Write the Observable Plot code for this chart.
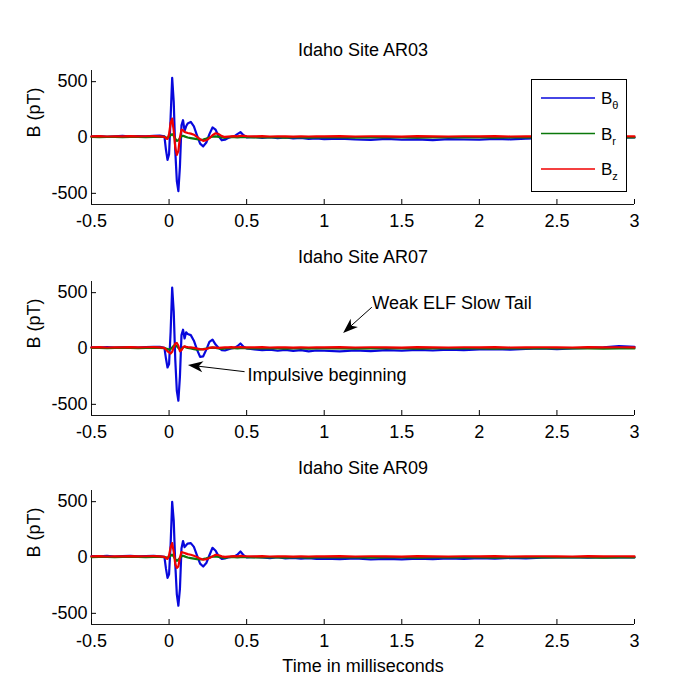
<!DOCTYPE html>
<html>
<head>
<meta charset="utf-8">
<script src="https://cdn.jsdelivr.net/npm/d3@7"></script>
<script src="https://cdn.jsdelivr.net/npm/@observablehq/plot@0.6"></script>
<style>
  body { margin: 0; background: #fff; }
  #chart { position: relative; width: 700px; height: 700px; font-family: "Liberation Sans", Arial, sans-serif; }
  #chart > svg { position: absolute; left: 0; }
</style>
</head>
<body>
<div id="chart"></div>
<script>
// Sample times (ms) shared by every station record
const timeMs = [
  -0.5, -0.45, -0.4, -0.35, -0.3, -0.25, -0.2, -0.15, -0.1, -0.06, -0.03, -0.02, -0.01,
  0, 0.01, 0.02, 0.03, 0.04, 0.05, 0.06, 0.07, 0.08, 0.09, 0.1, 0.11, 0.12,
  0.14, 0.16, 0.18, 0.2, 0.22, 0.24, 0.26, 0.28, 0.3, 0.32, 0.34, 0.36, 0.38, 0.4, 0.42, 0.44, 0.46, 0.48, 0.5,
  0.55, 0.6, 0.65, 0.7, 0.75, 0.8, 0.85, 0.9, 0.95,
  1, 1.1, 1.2, 1.3, 1.4, 1.5, 1.6, 1.7, 1.8, 1.9, 2, 2.1, 2.2, 2.3, 2.4, 2.5, 2.6, 2.7, 2.8, 2.9, 3
];

// Station AR03 (pT)
const bTheta03 = [
  8, 12, 6, 10, 14, 8, 12, 10, 14, 18, 10, -110, -200,
  -150, 180, 535, 320, -120, -390, -480, -260, 110, 155, 60, 100, 125,
  140, 100, 20, -55, -80, -45, 30, 90, 70, 10, -25, -20, -5, 5, 10, 30, 48, 20, 2,
  5, -4, 2, -6, 0, -8, -3, -12, -8,
  -15, -10, -18, -22, -12, -20, -16, -24, -14, -18, -20, -12, -16, -10, -6, -2, 0, -4, 2, -2, 0
];
const bR03 = [
  5, 4, 6, 5, 3, 5, 6, 4, 5, 6, 5, 2, 0,
  5, 20, 30, 15, -10, -30, -25, -5, 10, 15, 10, 5, 0,
  -5, -10, -15, -20, -18, -10, 0, 8, 10, 5, 0, -3, 2, 5, 3, 0, 4, 6, 3,
  2, 0, 3, 1, -2, 2, 0, -1, 1,
  0, 2, -1, 1, 3, 0, -2, 1, 2, 0, 1, -1, 2, 0, 3, 1, 0, 2, -1, 1, 0
];
const bZ03 = [
  10, 12, 9, 11, 10, 12, 10, 11, 12, 10, 6, -10, -12,
  30, 130, 170, 60, -90, -155, -120, 0, 70, 65, 50, 45, 40,
  35, 25, 5, -15, -30, -25, -5, 20, 38, 30, 12, 5, 8, 10, 12, 10, 15, 14, 12,
  10, 12, 9, 11, 10, 8, 10, 9, 11,
  10, 12, 9, 11, 10, 8, 12, 10, 9, 11, 10, 12, 9, 10, 11, 10, 9, 12, 10, 11, 10
];

// Station AR07 (pT)
const bTheta07 = [
  10, 8, 12, 9, 11, 10, 8, 12, 14, 15, 5, -90, -170,
  -140, 150, 545, 330, -100, -380, -468, -250, 120, 168, 90, 145, 130,
  120, 70, -10, -75, -70, -10, 60, 80, 35, 5, -15, -18, -8, 0, 5, 20, 45, 15, 0,
  -8, -15, -10, -20, -12, -22, -15, -25, -18,
  -20, -26, -18, -24, -15, -20, -12, -18, -10, -14, -8, -5, -10, -4, 0, -6, 2, 5, 10, 22, 15
];
const bR07 = [
  5, 6, 4, 5, 7, 5, 4, 6, 5, 6, 4, 0, -5,
  -10, -5, 10, 25, 30, 20, 5, -10, -5, 10, 15, 10, 5,
  0, -5, -10, -8, -5, 0, 5, 8, 5, 0, -3, 0, 2, 4, 2, 0, 3, 5, 2,
  2, 0, 3, 1, -2, 2, 0, -1, 1,
  0, 2, -1, 1, 3, 0, -2, 1, 2, 0, 1, -1, 2, 0, 3, 1, 0, 2, -1, 1, 0
];
const bZ07 = [
  10, 12, 9, 11, 10, 12, 10, 11, 12, 10, 5, -10, -25,
  -35, -45, -30, 10, 45, 50, 25, -25, -15, 10, 20, 15, 12,
  10, 5, 0, -5, -8, -3, 5, 10, 8, 5, 8, 10, 10, 12, 10, 11, 12, 10, 11,
  10, 12, 9, 11, 10, 8, 10, 9, 11,
  10, 12, 9, 11, 10, 8, 12, 10, 9, 11, 10, 12, 9, 10, 11, 10, 9, 12, 10, 11, 10
];

// Station AR09 (pT)
const bTheta09 = [
  12, 10, 14, 8, 12, 15, 10, 12, 14, 10, 5, -100, -183,
  -150, 120, 498, 330, -60, -330, -432, -280, 80, 147, 93, 110, 125,
  129, 95, 20, -55, -81, -50, 20, 87, 60, 10, -12, -8, 0, 5, 10, 25, 54, 20, 2,
  5, 0, -5, 2, -8, -3, -10, -6, -12,
  -10, -15, -8, -18, -12, -16, -10, -14, -8, -12, -6, -10, -4, -8, -2, 0, 4, -2, 3, 0, 2
];
const bR09 = [
  4, 5, 6, 4, 5, 6, 5, 4, 6, 5, 4, 2, 0,
  5, 15, 25, 10, -15, -30, -20, -5, 10, 15, 10, 5, 0,
  -5, -10, -15, -18, -15, -8, 0, 8, 10, 5, 0, -3, 2, 5, 3, 0, 4, 6, 3,
  2, 0, 3, 1, -2, 2, 0, -1, 1,
  1, 0, 2, -1, 2, 0, -2, 1, 3, 0, 1, -1, 2, 0, 2, 1, 0, 2, -1, 1, 0
];
const bZ09 = [
  10, 12, 9, 11, 10, 12, 10, 11, 12, 10, 6, -8, -12,
  20, 90, 129, 50, -60, -93, -80, 0, 48, 45, 40, 35, 30,
  25, 15, 5, -10, -20, -15, -5, 10, 25, 20, 10, 5, 8, 10, 12, 10, 14, 12, 11,
  10, 12, 9, 11, 10, 8, 10, 9, 11,
  10, 12, 9, 11, 10, 8, 12, 10, 9, 11, 10, 12, 9, 10, 11, 10, 9, 12, 10, 11, 10
];

const panelTitles = ["Idaho Site AR03", "Idaho Site AR07", "Idaho Site AR09"];
const xTicks = [-0.5, 0, 0.5, 1, 1.5, 2, 2.5, 3];
const yTicks = [-500, 0, 500];
const componentNames = ["θ", "r", "z"]; // subscripts of B
const componentColors = ["#0808dc", "#0a780a", "#f00000"];

// Callouts on the AR07 record: label anchor and arrow tail/tip in data units
const notes = [
  { label: "Weak ELF Slow Tail", x: 1.31, y: 405, fromX: 1.31, fromY: 365, toX: 1.125, toY: 135 },
  { label: "Impulsive beginning", x: 0.505, y: -242, fromX: 0.49, fromY: -212, toX: 0.125, toY: -152 }
];

const FONT = '"Liberation Sans", Arial, sans-serif';
const chart = document.getElementById("chart");

const layouts = [
  { top: 0,   height: 235, mt: 70, mb: 31, titleDy: -27 },
  { top: 235, height: 212, mt: 46, mb: 32, titleDy: -31 },
  { top: 447, height: 253, mt: 43, mb: 76, titleDy: -29 }
];
const records = [
  [bTheta03, bR03, bZ03],
  [bTheta07, bR07, bZ07],
  [bTheta09, bR09, bZ09]
];

function arrowHead(g, x1, y1, x2, y2) {
  const dx = x2 - x1, dy = y2 - y1, len = Math.hypot(dx, dy);
  const ux = dx / len, uy = dy / len, px = -uy, py = ux;
  const L = 15, W = 5.5;
  g.append("line")
    .attr("x1", x1).attr("y1", y1)
    .attr("x2", x2 - ux * L * 0.7).attr("y2", y2 - uy * L * 0.7)
    .attr("stroke", "#000").attr("stroke-width", 1);
  const pts = [
    [x2, y2],
    [x2 - ux * L + px * W, y2 - uy * L + py * W],
    [x2 - ux * L * 0.72, y2 - uy * L * 0.72],
    [x2 - ux * L - px * W, y2 - uy * L - py * W]
  ];
  g.append("polygon").attr("points", pts.map(p => p.join(",")).join(" ")).attr("fill", "#000");
}

layouts.forEach((lay, i) => {
  const [bt, br, bz] = records[i];
  const last = i === layouts.length - 1;
  const marks = [
    Plot.ruleX([-0.5], { stroke: "#1a1a1a" }),
    Plot.ruleY([-600], { stroke: "#1a1a1a" }),
    Plot.axisX({ ticks: xTicks, tickSize: -5, tickPadding: 15, tickFormat: d => `${d}`, label: null }),
    Plot.axisY({ ticks: yTicks, tickSize: -5, tickPadding: 9, tickFormat: d => `${d}`, label: null }),
    Plot.lineY(bt, { x: timeMs, stroke: componentColors[0], strokeWidth: 2.2 }),
    Plot.lineY(br, { x: timeMs, stroke: componentColors[1], strokeWidth: 2.2 }),
    Plot.lineY(bz, { x: timeMs, stroke: componentColors[2], strokeWidth: 2.2 }),
    Plot.text([panelTitles[i]], { frameAnchor: "top", dy: lay.titleDy, fontSize: 18 }),
    Plot.text(["B (pT)"], { frameAnchor: "left", dx: -57, rotate: -90, fontSize: 18 })
  ];
  if (i === 1) {
    marks.push(Plot.text(notes, { x: "x", y: "y", text: "label", textAnchor: "start", fontSize: 18 }));
  }
  if (last) {
    marks.push(Plot.text(["Time in milliseconds"], { frameAnchor: "bottom", dy: 47, fontSize: 18 }));
  }
  const svg = Plot.plot({
    width: 700,
    height: lay.height,
    marginLeft: 91,
    marginRight: 66,
    marginTop: lay.mt,
    marginBottom: lay.mb,
    style: { fontFamily: FONT, fontSize: "18px", background: "transparent", overflow: "visible", color: "#000" },
    x: { domain: [-0.5, 3] },
    y: { domain: [-600, 600] },
    marks
  });
  svg.style.top = lay.top + "px";
  chart.appendChild(svg);

  if (i === 1) {
    const sx = svg.scale("x"), sy = svg.scale("y");
    const g = d3.select(svg).append("g");
    notes.forEach(n => arrowHead(g, sx.apply(n.fromX), sy.apply(n.fromY), sx.apply(n.toX), sy.apply(n.toY)));
  }
});

// Legend box for the three field components
const leg = d3.select(chart).append("svg")
  .attr("width", 97).attr("height", 114)
  .style("left", "531px").style("top", "79px")
  .style("font-family", FONT);
leg.append("rect").attr("x", 0.5).attr("y", 0.5).attr("width", 95).attr("height", 112)
  .attr("fill", "#fff").attr("stroke", "#000");
componentNames.forEach((name, k) => {
  const y = 19 + k * 35.5;
  leg.append("line").attr("x1", 10).attr("x2", 64).attr("y1", y).attr("y2", y)
    .attr("stroke", componentColors[k]).attr("stroke-width", 1.5);
  const t = leg.append("text").attr("x", 70).attr("y", y + 6).attr("font-size", 17).attr("fill", "#000");
  t.append("tspan").text("B");
  t.append("tspan").attr("font-size", 11).attr("dy", 5).text(name);
});
</script>
</body>
</html>
